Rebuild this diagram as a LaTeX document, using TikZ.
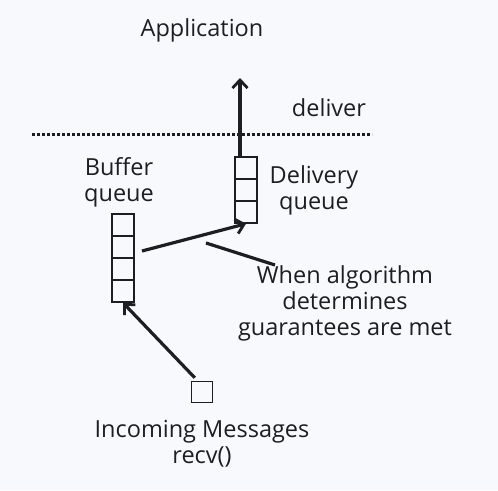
\documentclass[tikz,border=0pt]{standalone}
\usepackage{fontspec}
\setmainfont{Open Sans}
\usetikzlibrary{arrows.meta}
\definecolor{bgpaper}{RGB}{248,249,253}
\definecolor{ink}{RGB}{30,30,32}

\begin{document}
\begin{tikzpicture}[x=1pt,y=-1pt,
    cell/.style={draw=ink,line width=1.5pt,minimum width=22pt,minimum height=22pt,inner sep=0pt},
    lbl/.style={text=ink,font=\fontsize{23.5}{26}\selectfont,align=center,inner sep=0pt},
    flow/.style={draw=ink,line width=3.2pt,-{Straight Barb[length=8pt,width=15pt,line width=2.8pt]}}]
    \fill[bgpaper] (0,0) rectangle (498,490);
    \useasboundingbox (0,0) rectangle (498,490);

    % buffer queue
    \node[cell] (b1) at (123,225) {};
    \node[cell] (b2) at (123,247) {};
    \node[cell] (b3) at (123,269) {};
    \node[cell] (b4) at (123,291) {};
    % delivery queue
    \node[cell] (d1) at (246,168) {};
    \node[cell] (d2) at (246,190) {};
    \node[cell] (d3) at (246,212) {};
    % incoming message
    \node[cell,minimum width=21pt,minimum height=21pt] (msg) at (202,392) {};

    \node[lbl] (app) at (202,30) {Application};
    \node[lbl] (deliver) at (329,108) {deliver};
    \node[lbl] (bufq) at (119,182) {Buffer\\queue};
    \node[lbl] (delq) at (314,190) {Delivery\\queue};
    \node[lbl] (cond) at (345,303) {When algorithm\\determines\\guarantees are met};
    \node[lbl] (inc) at (202,444) {Incoming Messages\\recv()};

    \coordinate (top) at (240,78);
    \coordinate (mid) at (206,243);
    \coordinate (tip) at (275,265);
    \draw[ink,line width=3pt,dotted] (32,134) -- (372,134);

    \draw[flow] (msg.north west) ++(4,-3) -- (b4.south);
    \draw[flow] (142,251) -- (d3.south);
    \draw[flow] (d1.north -| top) -- (top);
    \draw[ink,line width=3.2pt] (mid) -- (tip);
\end{tikzpicture}
\end{document}
